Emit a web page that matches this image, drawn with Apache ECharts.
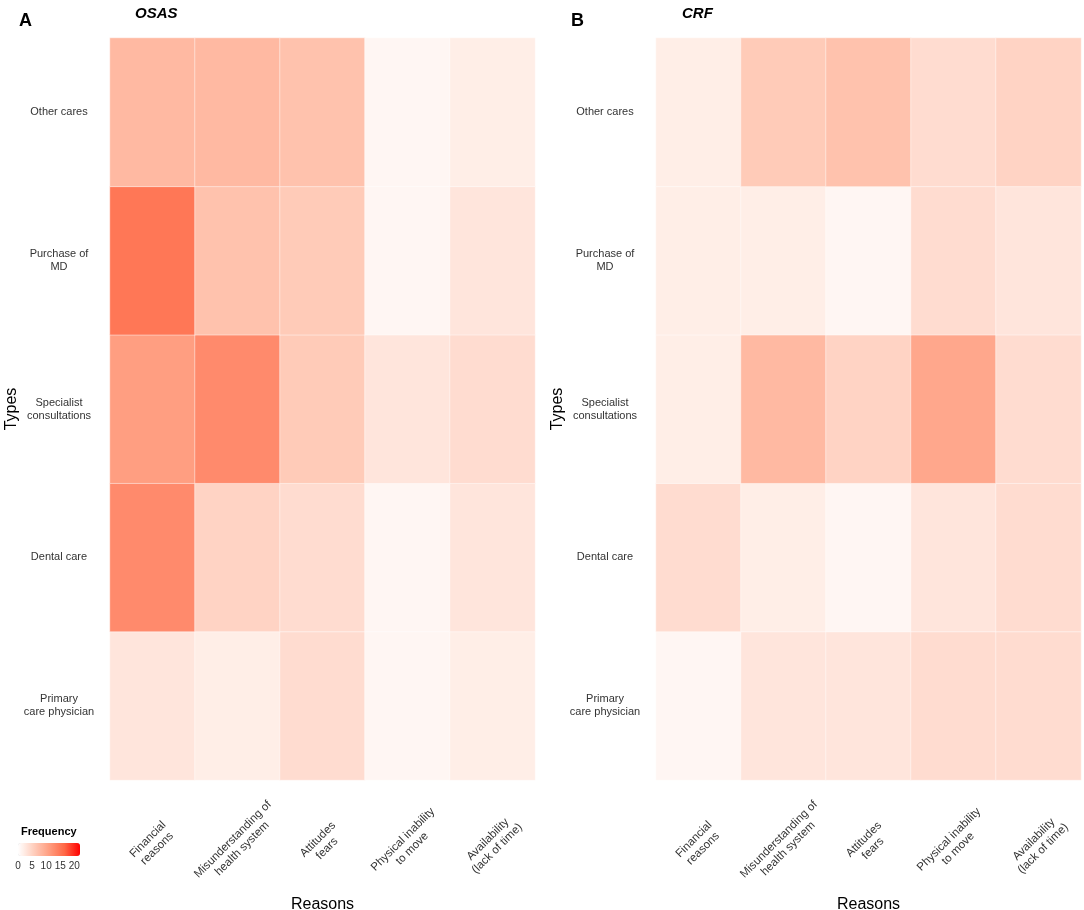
<!DOCTYPE html>
<html>
<head>
<meta charset="utf-8">
<script src="https://cdn.jsdelivr.net/npm/echarts@6/dist/echarts.min.js"></script>
<style>
  html, body { margin: 0; padding: 0; background: #fff; }
  #chart { width: 1084px; height: 910px; }
</style>
</head>
<body>
<div id="chart"></div>
<script>
// categories
var reasons = ['Financial\nreasons', 'Misunderstanding of\nhealth system', 'Attitudes\nfears',
  'Physical inability\nto move', 'Availability\n(lack of time)'];
// bottom -> top
var types = ['Primary\ncare physician', 'Dental care', 'Specialist\nconsultations', 'Purchase of\nMD', 'Other cares'];

// frequency per type (rows follow `types`), columns follow `reasons`
var osasFreq = [
  [3, 2, 4, 1, 2],
  [13, 5, 4, 1, 3],
  [11, 13, 6, 3, 4],
  [15, 7, 6, 1, 3],
  [8, 8, 7, 1, 2]
];
var crfFreq = [
  [1, 3, 3, 4, 4],
  [4, 2, 1, 3, 4],
  [2, 8, 5, 10, 4],
  [2, 2, 1, 4, 3],
  [2, 6, 7, 4, 5]
];
var freqMax = 22;
var legendTicks = [0, 5, 10, 15, 20];

function toCells(rows) {
  var out = [];
  rows.forEach(function (row, y) {
    row.forEach(function (v, x) {
      out.push([x, y, v]);
    });
  });
  return out;
}

var labelFont = 'Liberation Sans, Arial, sans-serif';

function xAxisFor(gridIndex) {
  return {
    type: 'category',
    gridIndex: gridIndex,
    data: reasons,
    name: 'Reasons',
    nameLocation: 'middle',
    nameGap: 112,
    nameTextStyle: { fontSize: 16, color: '#000', fontFamily: labelFont },
    axisLine: { show: false },
    axisTick: { show: false },
    splitLine: { show: false },
    axisLabel: {
      interval: 0,
      rotate: 45,
      align: 'center',
      verticalAlign: 'middle',
      margin: 64,
      fontSize: 11.5,
      lineHeight: 13,
      color: '#333',
      fontFamily: labelFont
    }
  };
}

function yAxisFor(gridIndex) {
  return {
    type: 'category',
    gridIndex: gridIndex,
    data: types,
    name: 'Types',
    nameLocation: 'middle',
    nameGap: 88,
    nameRotate: 90,
    nameTextStyle: { fontSize: 16, color: '#000', fontFamily: labelFont },
    axisLine: { show: false },
    axisTick: { show: false },
    splitLine: { show: false },
    axisLabel: {
      align: 'center',
      margin: 51,
      fontSize: 11,
      lineHeight: 13,
      color: '#333',
      fontFamily: labelFont
    }
  };
}

var chart = echarts.init(document.getElementById('chart'), null, { renderer: 'canvas' });

chart.setOption({
  backgroundColor: '#fff',
  animation: false,
  title: [
    { text: 'A', left: 14, top: 7, textStyle: { fontSize: 18, fontWeight: 'bold', color: '#000', fontFamily: labelFont } },
    { text: 'OSAS', left: 130, top: 1, textStyle: { fontSize: 15, fontWeight: 'bold', fontStyle: 'italic', color: '#000', fontFamily: labelFont } },
    { text: 'B', left: 566, top: 7, textStyle: { fontSize: 18, fontWeight: 'bold', color: '#000', fontFamily: labelFont } },
    { text: 'CRF', left: 677, top: 1, textStyle: { fontSize: 15, fontWeight: 'bold', fontStyle: 'italic', color: '#000', fontFamily: labelFont } },
    { text: 'Frequency', left: 16, top: 821, textStyle: { fontSize: 11, fontWeight: 'bold', color: '#000', fontFamily: labelFont } }
  ],
  grid: [
    { left: 110, top: 38, width: 425, height: 742, outerBoundsMode: 'none' },
    { left: 656, top: 38, width: 425, height: 742, outerBoundsMode: 'none' },
    // legend tick axis
    { left: 18, top: 843, width: 62, height: 13, outerBoundsMode: 'none' }
  ],
  xAxis: [
    xAxisFor(0),
    xAxisFor(1),
    {
      type: 'value',
      gridIndex: 2,
      min: 0,
      max: freqMax,
      interval: 5,
      axisLine: { show: false },
      axisTick: { show: false },
      splitLine: { show: false },
      axisLabel: {
        margin: 5,
        fontSize: 10,
        color: '#333',
        fontFamily: labelFont,
        showMaxLabel: false,
        formatter: function (v) { return legendTicks.indexOf(v) >= 0 ? String(v) : ''; }
      }
    }
  ],
  yAxis: [
    yAxisFor(0),
    yAxisFor(1),
    { type: 'value', gridIndex: 2, show: false }
  ],
  visualMap: {
    type: 'continuous',
    min: 0,
    max: freqMax,
    seriesIndex: [0, 1],
    orient: 'horizontal',
    calculable: false,
    hoverLink: false,
    padding: 0,
    left: 18,
    top: 843,
    itemWidth: 13,
    itemHeight: 62,
    text: null,
    inRange: {
      color: ['#ffffff', '#ffcfbe', '#ff9e81', '#ff6846', '#ff0000']
    }
  },
  series: [
    {
      type: 'heatmap',
      xAxisIndex: 0,
      yAxisIndex: 0,
      data: toCells(osasFreq),
      itemStyle: { borderColor: 'rgba(255,255,255,0.45)', borderWidth: 1 },
      emphasis: { disabled: true }
    },
    {
      type: 'heatmap',
      xAxisIndex: 1,
      yAxisIndex: 1,
      data: toCells(crfFreq),
      itemStyle: { borderColor: 'rgba(255,255,255,0.45)', borderWidth: 1 },
      emphasis: { disabled: true }
    }
  ]
});
</script>
</body>
</html>
